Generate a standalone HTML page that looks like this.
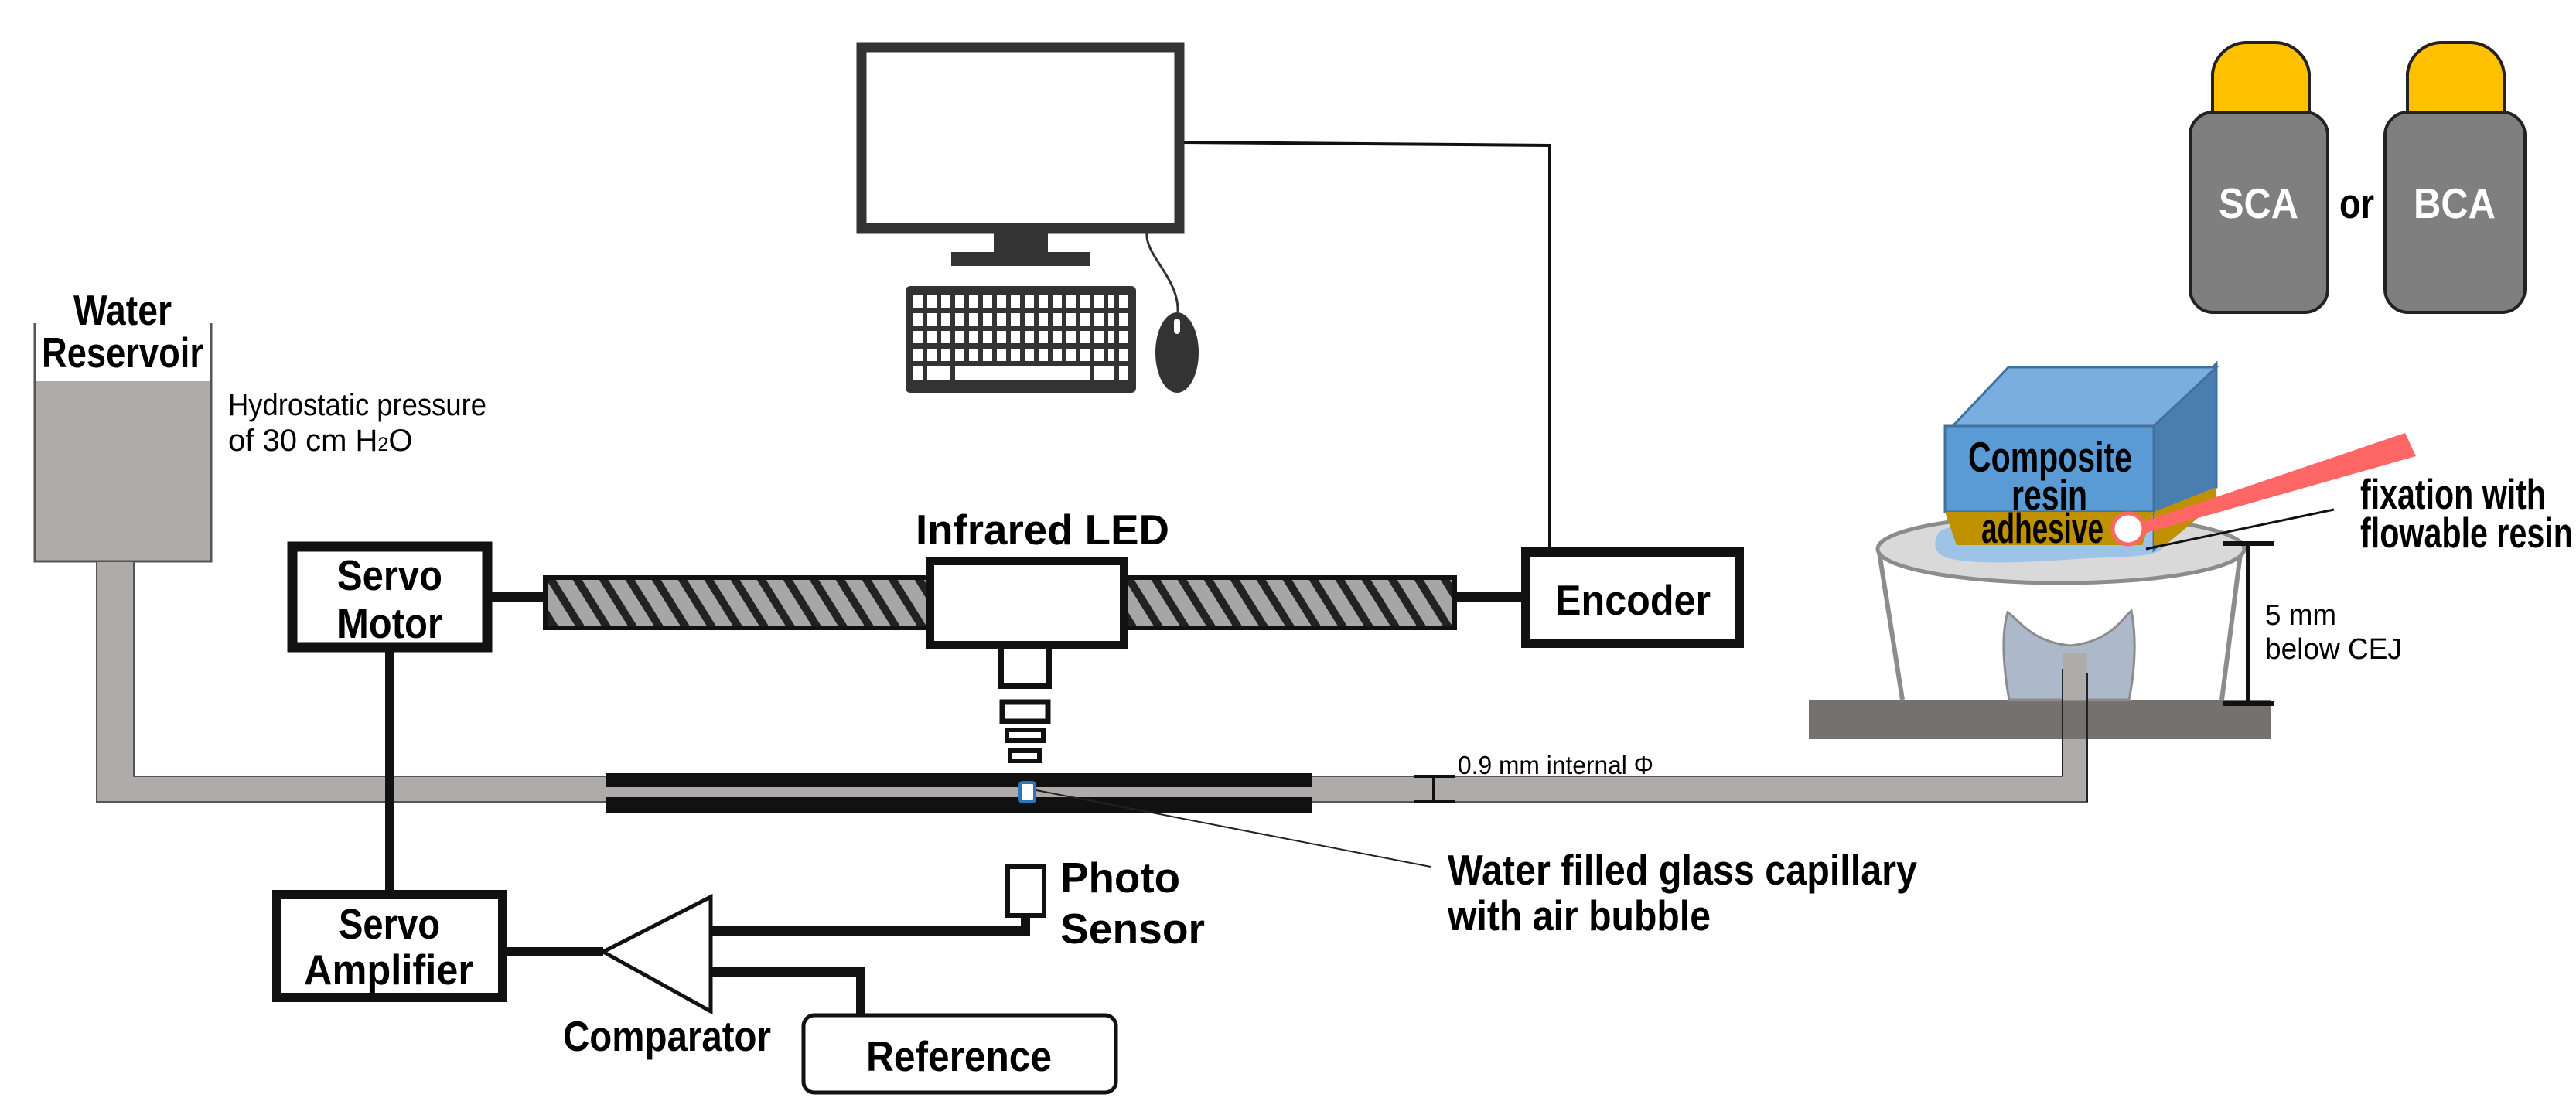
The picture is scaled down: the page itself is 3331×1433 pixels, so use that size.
<!DOCTYPE html>
<html><head><meta charset="utf-8"><style>
html,body{margin:0;padding:0;background:#fff;}
svg{display:block;}
text{font-family:"Liberation Sans",sans-serif;}
.b{font-weight:bold;font-size:55px;}
</style></head><body>
<svg width="3331" height="1433" viewBox="0 0 3331 1433" xmlns="http://www.w3.org/2000/svg">
<defs>
<pattern id="hatch" width="34" height="80" patternUnits="userSpaceOnUse" patternTransform="skewX(32)">
<rect width="34" height="80" fill="#a6a6a6"/>
<rect x="0" width="12" height="80" fill="#222"/>
</pattern>
</defs>

<!-- Monitor -->
<rect x="1114" y="61" width="411" height="234" fill="#fff" stroke="#333" stroke-width="13"/>
<rect x="1285" y="301" width="70" height="26" fill="#333"/>
<rect x="1230" y="326" width="179" height="18" fill="#333"/>
<!-- keyboard -->
<rect x="1171" y="370" width="298" height="138" rx="6" fill="#333"/>
<g fill="#fff">
<rect x="1181" y="382" width="278" height="16"/>
<rect x="1181" y="405" width="278" height="16"/>
<rect x="1181" y="428" width="278" height="16"/>
<rect x="1181" y="451" width="278" height="16"/>
<rect x="1181" y="474" width="278" height="18"/>
</g>
<g stroke="#333" stroke-width="6">
<path d="M1196 380V500M1214 380V470M1232 380V500M1250 380V470M1268 380V470M1286 380V470M1304 380V470M1322 380V470M1340 380V470M1358 380V470M1376 380V470M1394 380V470M1412 380V500M1430 380V470M1444 380V500"/>
</g>
<!-- mouse -->
<path d="M1483 301 C1480 330 1525 360 1523 404" fill="none" stroke="#333" stroke-width="3"/>
<ellipse cx="1522" cy="456" rx="28" ry="52" fill="#333"/>
<rect x="1518" y="412" width="8" height="20" rx="4" fill="#fff"/>
<!-- monitor to encoder line -->
<polyline points="1531,184 2004,188 2004,708" fill="none" stroke="#111" stroke-width="4"/>

<!-- Water reservoir -->
<rect x="45" y="493" width="228" height="233" fill="#afabab"/>
<path d="M45 418V726H273V418" fill="none" stroke="#555" stroke-width="3"/>
<text class="b" x="95" y="420" textLength="127" lengthAdjust="spacingAndGlyphs">Water</text>
<text class="b" x="54" y="475" textLength="209" lengthAdjust="spacingAndGlyphs">Reservoir</text>
<text x="295" y="537" font-size="40" textLength="334" lengthAdjust="spacingAndGlyphs">Hydrostatic pressure</text>
<text x="295" y="583" font-size="40">of 30 cm H<tspan font-size="25">2</tspan>O</text>

<!-- pipes -->
<path d="M125 726V1037H2699V844H2667V1004H173V726Z" fill="#afabab" stroke="#555" stroke-width="2"/>

<!-- capillary -->
<rect x="783" y="1000" width="913" height="18" fill="#111"/>
<rect x="783" y="1031" width="913" height="21" fill="#111"/>
<rect x="1319" y="1012" width="19" height="25" rx="3" fill="#fff" stroke="#2e75b6" stroke-width="4"/>
<line x1="1340" y1="1022" x2="1850" y2="1121" stroke="#222" stroke-width="2"/>
<path d="M1829 1004H1881M1854 1004V1037M1829 1037H1881" stroke="#111" stroke-width="4" fill="none"/>
<text x="1885" y="1001" font-size="33" textLength="253" lengthAdjust="spacingAndGlyphs">0.9 mm internal Φ</text>
<text class="b" x="1872" y="1144" textLength="607" lengthAdjust="spacingAndGlyphs">Water filled glass capillary</text>
<text class="b" x="1872" y="1203" textLength="340" lengthAdjust="spacingAndGlyphs">with air bubble</text>

<!-- Servo motor -->
<rect x="378" y="707" width="252" height="130" fill="#fff" stroke="#111" stroke-width="13"/>
<text class="b" x="436" y="763" textLength="136" lengthAdjust="spacingAndGlyphs">Servo</text>
<text class="b" x="436" y="825" textLength="136" lengthAdjust="spacingAndGlyphs">Motor</text>
<line x1="636" y1="772" x2="702" y2="772" stroke="#111" stroke-width="12"/>
<rect x="705" y="747" width="1176" height="65" fill="url(#hatch)" stroke="#111" stroke-width="6"/>
<rect x="1203" y="726" width="250" height="108" fill="#fff" stroke="#111" stroke-width="10"/>
<text class="b" x="1184" y="704" textLength="328" lengthAdjust="spacingAndGlyphs">Infrared LED</text>
<path d="M1294 840V887H1356V840" fill="#fff" stroke="#111" stroke-width="8"/>
<rect x="1296" y="908" width="59" height="25" fill="#fff" stroke="#111" stroke-width="7"/>
<rect x="1302" y="944" width="47" height="14" fill="#fff" stroke="#111" stroke-width="6"/>
<rect x="1306" y="971" width="38" height="13" fill="#fff" stroke="#111" stroke-width="6"/>
<line x1="1881" y1="772" x2="1967" y2="772" stroke="#111" stroke-width="12"/>
<rect x="1973" y="714" width="276" height="118" fill="#fff" stroke="#111" stroke-width="12"/>
<text class="b" x="2011" y="795" textLength="201" lengthAdjust="spacingAndGlyphs">Encoder</text>

<line x1="504" y1="843" x2="504" y2="1151" stroke="#111" stroke-width="12"/>
<rect x="358" y="1157" width="292" height="133" fill="#fff" stroke="#111" stroke-width="12"/>
<text class="b" x="438" y="1214" textLength="131" lengthAdjust="spacingAndGlyphs">Servo</text>
<text class="b" x="393" y="1273" textLength="219" lengthAdjust="spacingAndGlyphs">Amplifier</text>
<line x1="656" y1="1231" x2="780" y2="1231" stroke="#111" stroke-width="12"/>
<polygon points="780,1231 919,1160 919,1308" fill="#fff" stroke="#111" stroke-width="5"/>
<text class="b" x="728" y="1359" textLength="269" lengthAdjust="spacingAndGlyphs">Comparator</text>
<polyline points="921,1204 1326,1204 1326,1185" fill="none" stroke="#111" stroke-width="12"/>
<rect x="1303" y="1121" width="47" height="63" fill="#fff" stroke="#111" stroke-width="6"/>
<text class="b" x="1371" y="1154" textLength="155" lengthAdjust="spacingAndGlyphs">Photo</text>
<text class="b" x="1371" y="1220" textLength="187" lengthAdjust="spacingAndGlyphs">Sensor</text>
<polyline points="921,1257 1113,1257 1113,1312" fill="none" stroke="#111" stroke-width="12"/>
<rect x="1039" y="1313" width="404" height="100" rx="14" fill="#fff" stroke="#111" stroke-width="5"/>
<text class="b" x="1120" y="1385" textLength="240" lengthAdjust="spacingAndGlyphs">Reference</text>

<!-- bottles -->
<path d="M2861 147V95A45 45 0 0 1 2906 55H2941A45 45 0 0 1 2986 95V147Z" fill="#ffc000" stroke="#222" stroke-width="4"/>
<rect x="2832" y="145" width="178" height="259" rx="30" fill="#7f7f7f" stroke="#222" stroke-width="4"/>
<path d="M3113 147V95A45 45 0 0 1 3158 55H3193A45 45 0 0 1 3238 95V147Z" fill="#ffc000" stroke="#222" stroke-width="4"/>
<rect x="3084" y="145" width="181" height="259" rx="30" fill="#7f7f7f" stroke="#222" stroke-width="4"/>
<text class="b" x="2869" y="282" fill="#fff" font-size="58" textLength="103" lengthAdjust="spacingAndGlyphs">SCA</text>
<text class="b" x="3025" y="282" textLength="45" lengthAdjust="spacingAndGlyphs">or</text>
<text class="b" x="3121" y="282" fill="#fff" font-size="58" textLength="106" lengthAdjust="spacingAndGlyphs">BCA</text>

<rect x="2339" y="905" width="598" height="51" fill="#767171"/>
<path d="M2429 708L2460 905M2898 708L2873 905" stroke="#8c8c8c" stroke-width="6" fill="none"/>
<path d="M2598 905C2590 860 2588 820 2596 792C2610 800 2625 830 2677 835C2729 830 2744 800 2756 790C2762 820 2762 860 2753 905Z" fill="#adb9ca" stroke="#8c8c8c" stroke-width="3"/>
<rect x="2667" y="844" width="32" height="61" fill="#afabab"/>
<line x1="2667" y1="865" x2="2667" y2="1004" stroke="#222" stroke-width="2"/>
<line x1="2699" y1="870" x2="2699" y2="1037" stroke="#222" stroke-width="2"/>
<ellipse cx="2665" cy="710" rx="237" ry="44" fill="#d9d9d9" stroke="#8c8c8c" stroke-width="5"/>
<path d="M2505 692C2510 676 2560 680 2640 682C2720 684 2790 676 2797 700C2804 720 2760 720 2700 722C2640 726 2560 732 2520 722C2500 716 2500 704 2505 692Z" fill="#9dc3e6"/>
<polygon points="2785,551 2866,470 2866,630 2785,711" fill="#4a7db0" stroke="#41719c" stroke-width="3"/>
<polygon points="2785,662 2866,630 2866,650 2800,705 2785,705" fill="#bf9000"/>
<polygon points="2525,551 2597,475 2866,475 2785,551" fill="#7aade0" stroke="#41719c" stroke-width="3"/>
<rect x="2515" y="551" width="270" height="111" fill="#5b9bd5" stroke="#41719c" stroke-width="3"/>
<path d="M2515 662H2785L2770 705H2530Z" fill="#bf9000"/>
<text class="b" x="2545" y="610" font-size="50" textLength="212" lengthAdjust="spacingAndGlyphs">Composite</text>
<text class="b" x="2601" y="659" font-size="50" textLength="98" lengthAdjust="spacingAndGlyphs">resin</text>
<text class="b" x="2562" y="702" font-size="48" textLength="158" lengthAdjust="spacingAndGlyphs">adhesive</text>
<polygon points="2768,676 3110,560 3124,590 2772,690" fill="#ff6666"/>
<circle cx="2752" cy="684" r="20" fill="#fff" stroke="#ff6666" stroke-width="5"/>
<line x1="3018" y1="659" x2="2775" y2="710" stroke="#111" stroke-width="3"/>
<text class="b" x="3052" y="658" font-size="50" textLength="240" lengthAdjust="spacingAndGlyphs">fixation with</text>
<text class="b" x="3052" y="708" font-size="50" textLength="275" lengthAdjust="spacingAndGlyphs">flowable resin</text>
<path d="M2875 703H2940M2907 703V910M2875 910H2940" stroke="#111" stroke-width="6" fill="none"/>
<text x="2929" y="808" font-size="38" textLength="92" lengthAdjust="spacingAndGlyphs">5 mm</text>
<text x="2929" y="852" font-size="38" textLength="177" lengthAdjust="spacingAndGlyphs">below CEJ</text>
</svg>
</body></html>
